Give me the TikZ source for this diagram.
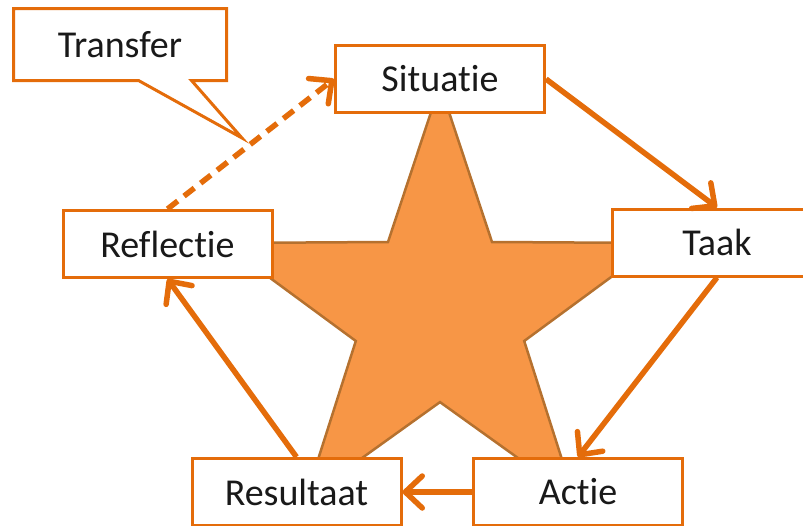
\documentclass[tikz,border=0pt]{standalone}
\usepackage{fontspec}
\setmainfont{Carlito}[Ligatures={NoCommon,NoContextual}]
\usetikzlibrary{arrows.meta}
\definecolor{boxline}{HTML}{E46C0A}
\definecolor{starfill}{HTML}{F79646}
\definecolor{starline}{HTML}{B5712F}
% keep "t" and "i" as separate glyphs
\newcommand{\tiSep}{t\kern0pt i}
\begin{document}
\begin{tikzpicture}[x=1pt,y=-1pt,
  stepbox/.style={draw=boxline,line width=3pt,fill=white,minimum width=209pt,
    minimum height=67pt,inner sep=0pt,font=\fontsize{38}{44}\selectfont,text=black!90},
  flow/.style={draw=boxline,line width=5.5pt,
    -{Straight Barb[length=17pt,width=32pt,line width=5.5pt,round]}},
  dashflow/.style={flow,dash pattern=on 13pt off 8pt}]
\clip (0,0) rectangle (803,525);
\useasboundingbox (0,0) rectangle (803,525);

% central star
\draw[fill=starfill,draw=starline,line width=2.5pt,line join=miter]
  (440,85) -- (492,242) -- (657.4,243) -- (524.2,341) -- (574.4,498.5)
  -- (440,402.1) -- (305.6,498.5) -- (355.8,341) -- (222.6,243) -- (388,242) -- cycle;

% the five steps
\node[stepbox] (sit) at (440,79) {Situa\tiSep e};
\node[stepbox] (taak) at (717,242.5) {Taak};
\node[stepbox] (actie) at (578,492) {Ac\tiSep e};
\node[stepbox] (res) at (296.5,492) {Resultaat};
\node[stepbox] (refl) at (167.5,244) {Reflec\tiSep e};

% cycle arrows
\draw[flow] (sit.east) -- (taak.north);
\draw[flow] (taak.south) -- (actie.north);
\draw[flow] (actie.west) -- (res.east);
\draw[flow] (res.north) -- (refl.south);
\draw[dashflow] (refl.north) -- (sit.west);

% callout
\node[stepbox,draw=none,minimum height=69pt,minimum width=210pt] (trans) at (120,44.5) {Transfer};
\coordinate (tip) at (242,138);
\draw[draw=boxline,line width=3pt,line join=miter]
  (trans.north west) -- (trans.north east) -- (trans.south east)
  -- ([xshift=-35pt]trans.south east) -- (tip)
  -- ([xshift=125pt]trans.south west) -- (trans.south west) -- cycle;
\end{tikzpicture}
\end{document}
